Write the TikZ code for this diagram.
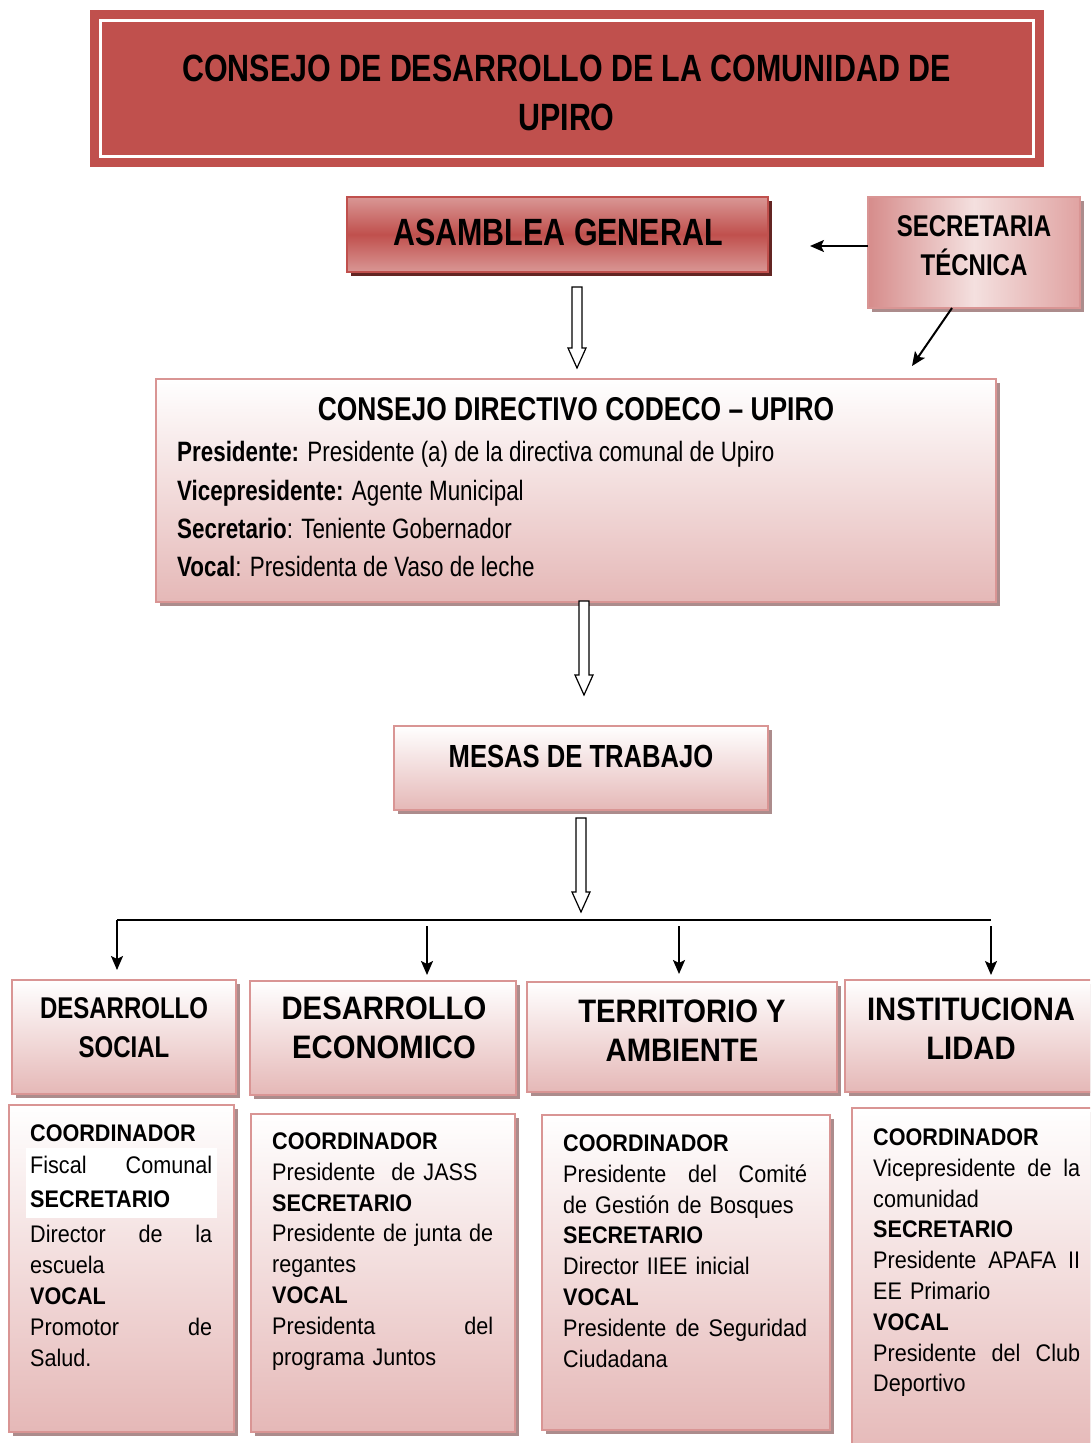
\documentclass[tikz,border=0pt]{standalone}
\usepackage{fontspec}
\setmainfont{Liberation Sans}
\newfontfamily\fnar[FakeStretch=0.8]{Liberation Sans}
\newfontfamily\fmed[FakeStretch=0.9]{Liberation Sans}
\usetikzlibrary{shadows,calc,arrows.meta}
\definecolor{cred}{RGB}{192,80,77}
\definecolor{cpinkb}{RGB}{217,149,148}
\definecolor{cpinkl}{RGB}{229,184,183}
\definecolor{cshad}{RGB}{172,140,140}
\definecolor{cdshad}{RGB}{99,37,35}
\definecolor{casamlt}{RGB}{217,151,149}
\definecolor{csecl}{RGB}{244,224,223}
\definecolor{csecd}{RGB}{214,140,139}
\definecolor{csecr}{RGB}{224,163,162}
\newcommand\hollowarrow[2]{%
  \draw[harrow] let \p1=(#1), \p2=(#2) in
    (\x1-5pt,\y1) -- (\x1+5pt,\y1) -- (\x1+5pt,\y2+20pt) -- (\x1+9pt,\y2+20pt)
    -- (\x1,\y2) -- (\x1-9pt,\y2+20pt) -- (\x1-5pt,\y2+20pt) -- cycle;}
\newcommand\jline[2]{\leavevmode\hbox to #1{#2}}
\tikzset{
  pinkbox/.style={draw=cpinkb, line width=2pt, top color=white, bottom color=cpinkl,
    drop shadow={shadow xshift=4pt,shadow yshift=-4pt,opacity=1,fill=cshad},
    inner sep=0pt, outer sep=0pt},
  harrow/.style={draw=black, fill=white, line width=1.2pt, line join=miter},
  blackarrow/.style={draw=black, line width=2pt, -{Stealth[length=14pt,width=12pt,inset=3pt]}},
  busline/.style={draw=black, line width=1.6pt},
  bodytext/.style={anchor=base west, inner sep=0pt, align=left,
    font=\fmed\fontsize{24}{30.8}\selectfont},
  headtext/.style={align=center, inner sep=0pt, font=\fmed\bfseries\fontsize{32.5}{39.5}\selectfont},
}
\begin{document}
\begin{tikzpicture}[x=1pt,y=-1pt]
\useasboundingbox (0,0) rectangle (1090,1443);
\clip (0,0) rectangle (1090,1443);

% Title
\node[fill=cred, draw=cred, minimum width=953pt, minimum height=156pt, inner sep=0pt] (title) at (566.5,88) {};
\node[draw=white, line width=3pt, minimum width=933pt, minimum height=136pt, inner sep=0pt] (titlein) at (566.5,88) {};
\node[align=center, inner sep=0pt, font=\fnar\bfseries\fontsize{38}{49}\selectfont] (titleT) at (566.5,92.5)
  {CONSEJO DE DESARROLLO DE LA COMUNIDAD DE\\UPIRO};

% Asamblea general
\node[draw=cred, line width=1.5pt, top color=casamlt, bottom color=casamlt, middle color=cred,
  drop shadow={shadow xshift=4pt,shadow yshift=-4pt,opacity=1,fill=cdshad},
  minimum width=421pt, minimum height=75pt, inner sep=0pt] (asam) at (557.5,234.5) {};
\node[inner sep=0pt, font=\fnar\bfseries\fontsize{38}{46}\selectfont] (asamT) at (558,232) {ASAMBLEA GENERAL};

% Secretaria tecnica
\node[draw=cpinkb, line width=2pt, left color=csecd, right color=csecr, middle color=csecl,
  drop shadow={shadow xshift=4pt,shadow yshift=-4pt,opacity=1,fill=cshad},
  minimum width=212pt, minimum height=111pt, inner sep=0pt] (sec) at (974,252.5) {};
\node[align=center, inner sep=0pt, font=\fnar\bfseries\fontsize{30}{39}\selectfont] (secT) at (974,245.5) {SECRETARIA\\TÉCNICA};

% Consejo directivo
\node[pinkbox, minimum width=840pt, minimum height=223pt] (cons) at (576,490.5) {};
\node[inner sep=0pt, font=\fnar\bfseries\fontsize{33}{40}\selectfont] (consT) at (576,409) {CONSEJO DIRECTIVO CODECO – UPIRO};
\begin{scope}[every node/.style={anchor=base west, inner sep=0pt, font=\fnar\fontsize{28}{34}\selectfont}]
\node (c1) at (177,461) {\textbf{Presidente:} Presidente (a) de la directiva comunal de Upiro};
\node (c2) at (177,500) {\textbf{Vicepresidente:} Agente Municipal};
\node (c3) at (177,538) {\textbf{Secretario}: Teniente Gobernador};
\node (c4) at (177,576) {\textbf{Vocal}: Presidenta de Vaso de leche};
\end{scope}

% Mesas de trabajo
\node[pinkbox, minimum width=374pt, minimum height=84pt] (mesa) at (581,768) {};
\node[inner sep=0pt, font=\fnar\bfseries\fontsize{32}{40}\selectfont] (mesaT) at (581,756) {MESAS DE TRABAJO};

% hollow arrows
\coordinate (h1a) at (577,287); \coordinate (h1b) at (577,368);
\coordinate (h2a) at (584,601); \coordinate (h2b) at (584,695);
\coordinate (h3a) at (581,818); \coordinate (h3b) at (581,912);
\hollowarrow{h1a}{h1b}
\hollowarrow{h2a}{h2b}
\hollowarrow{h3a}{h3b}

% secretaria arrows
\coordinate (sA) at (868,246); \coordinate (sB) at (810,246);
\coordinate (sC) at (952,308); \coordinate (sD) at (912,366);
\draw[blackarrow] (sA) -- (sB);
\draw[blackarrow] (sC) -- (sD);

% bus
\coordinate (busL) at (117,920); \coordinate (busR) at (991,920);
\draw[busline] (busL) -- (busR);
\coordinate (b2) at (427,926); \coordinate (b3) at (679,926); \coordinate (b4) at (991,926);
\coordinate (e1) at (117,970); \coordinate (e2) at (427,975); \coordinate (e3) at (679,974); \coordinate (e4) at (991,975);
\draw[blackarrow] (busL) -- (e1);
\draw[blackarrow] (b2) -- (e2);
\draw[blackarrow] (b3) -- (e3);
\draw[blackarrow] (b4) -- (e4);

% header boxes
\node[pinkbox, minimum width=224pt, minimum height=114pt] (hd1) at (124,1037) {};
\node[pinkbox, minimum width=266pt, minimum height=114pt] (hd2) at (383,1038) {};
\node[pinkbox, minimum width=310pt, minimum height=110pt] (hd3) at (682,1037) {};
\node[pinkbox, minimum width=255pt, minimum height=112pt] (hd4) at (972.5,1036) {};
\node[align=center, inner sep=0pt, font=\fnar\bfseries\fontsize{30}{39}\selectfont] (hd1T) at (124,1027.5) {DESARROLLO\\SOCIAL};
\node[headtext] (hd2T) at (384,1028) {DESARROLLO\\ECONOMICO};
\node[headtext] (hd3T) at (682,1030.5) {TERRITORIO Y\\AMBIENTE};
\node[headtext] (hd4T) at (971,1028.5) {INSTITUCIONA\\LIDAD};

% detail boxes
\node[pinkbox, minimum width=225pt, minimum height=327pt] (dt1) at (121.5,1268.5) {};
\node[pinkbox, minimum width=264pt, minimum height=318pt] (dt2) at (383,1273) {};
\node[pinkbox, minimum width=288pt, minimum height=315pt] (dt3) at (686,1272.5) {};
\node[pinkbox, minimum width=248pt, minimum height=352pt] (dt4) at (976,1284) {};
\fill[white] (26,1148) rectangle (217,1218);

\node[bodytext, text width=182pt] (dt1T) at (30,1141.5) {%
\textbf{COORDINADOR}\\[1pt]
\jline{182pt}{Fiscal\hfill Comunal}\\[3pt]
\textbf{SECRETARIO}\\[5pt]
\jline{182pt}{Director\hfill de\hfill la}\\
escuela\\
\textbf{VOCAL}\\
\jline{182pt}{Promotor\hfill de}\\
Salud.};

\node[bodytext, text width=221pt] (dt2T) at (272,1149.5) {%
\textbf{COORDINADOR}\\
Presidente\ \ de JASS\\
\textbf{SECRETARIO}\\
\jline{221pt}{Presidente\hfill de\hfill junta\hfill de}\\
regantes\\
\textbf{VOCAL}\\
\jline{221pt}{Presidenta\hfill del}\\
programa Juntos};

\node[bodytext, text width=244pt] (dt3T) at (563,1151.5) {%
\textbf{COORDINADOR}\\
\jline{244pt}{Presidente\hfill del\hfill Comité}\\
de Gestión de Bosques\\
\textbf{SECRETARIO}\\
Director IIEE inicial\\
\textbf{VOCAL}\\
\jline{244pt}{Presidente\hfill de\hfill Seguridad}\\
Ciudadana};

\node[bodytext, text width=207pt] (dt4T) at (873,1145.5) {%
\textbf{COORDINADOR}\\
\jline{207pt}{Vicepresidente\hfill de\hfill la}\\
comunidad\\
\textbf{SECRETARIO}\\
\jline{207pt}{Presidente\hfill APAFA\hfill II}\\
EE Primario\\
\textbf{VOCAL}\\
\jline{207pt}{Presidente\hfill del\hfill Club}\\
Deportivo};
\end{tikzpicture}
\end{document}
